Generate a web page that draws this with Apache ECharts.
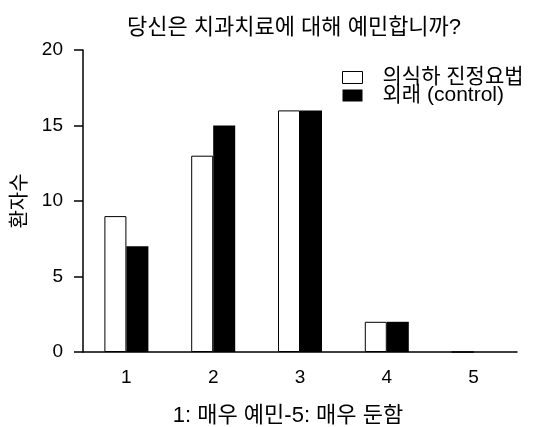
<!DOCTYPE html>
<html>
<head>
<meta charset="utf-8">
<script src="https://cdn.jsdelivr.net/npm/echarts@6/dist/echarts.min.js"></script>
<style>
  html, body { margin: 0; padding: 0; background: #fff; }
  #chart { width: 546px; height: 427px; }
</style>
</head>
<body>
<div id="chart"></div>
<script>
// 데이터
var categories = ['1', '2', '3', '4', '5'];
var sedationValues = [9, 13, 16, 2, 0];   // 의식하 진정요법
var controlValues = [7, 15, 16, 2, 0];    // 외래 (control)
var seriesNames = ['의식하 진정요법', '외래 (control)'];

var font = '"Liberation Sans", "Noto Sans CJK KR", sans-serif';

var myChart = echarts.init(document.getElementById('chart'));
var option = {
    backgroundColor: '#fff',
    animation: false,
    title: {
        text: '당신은 치과치료에 대해 예민합니까?',
        left: 289,
        textAlign: 'center',
        top: 12,
        textStyle: { fontFamily: font, fontSize: 22, fontWeight: 'normal', color: '#000' }
    },
    legend: {
        orient: 'vertical',
        left: 337,
        top: 62,
        itemWidth: 20,
        itemHeight: 12,
        itemGap: -3,
        data: [
            { name: seriesNames[0], icon: 'rect', itemStyle: { color: '#fff', borderColor: '#000', borderWidth: 1 } },
            { name: seriesNames[1], icon: 'rect' }
        ],
        textStyle: { fontFamily: font, fontSize: 21, lineHeight: 20, color: '#000', padding: [0, 0, 0, 15] }
    },
    // 축 이름이 grid를 밀어내지 않도록
    grid: { left: 83, right: 29, top: 50, bottom: 75, outerBoundsMode: 'none', containLabel: false },
    xAxis: {
        type: 'category',
        data: categories,
        name: '1: 매우 예민-5: 매우 둔함',
        nameLocation: 'middle',
        nameGap: 53,
        nameTextStyle: { fontFamily: font, fontSize: 22, color: '#000', padding: [0, 24, 0, 0] },
        axisLine: { lineStyle: { color: '#000', width: 1.5 } },
        axisTick: { inside: false, length: 8, lineStyle: { color: '#000', width: 1.5 } },
        axisLabel: { fontFamily: font, fontSize: 19, color: '#000', margin: 16 }
    },
    yAxis: {
        type: 'value',
        min: 0,
        max: 20,
        interval: 5,
        name: '환자수',
        nameLocation: 'middle',
        nameGap: 45,
        nameTextStyle: { fontFamily: font, fontSize: 20, color: '#000' },
        axisLine: { show: true, lineStyle: { color: '#000', width: 1.5 } },
        axisTick: { show: true, inside: false, length: 9, lineStyle: { color: '#000', width: 1.5 } },
        axisLabel: { fontFamily: font, fontSize: 19, color: '#000', margin: 20 },
        splitLine: { show: false }
    },
    series: [
        {
            name: seriesNames[0],
            type: 'bar',
            data: sedationValues,
            barWidth: 22,
            barGap: '0%',
            itemStyle: { color: '#fff', borderColor: '#000', borderWidth: 1 }
        },
        {
            name: seriesNames[1],
            type: 'bar',
            data: controlValues,
            barWidth: 22,
            barGap: '0%',
            itemStyle: { color: '#000' }
        }
    ]
};
myChart.setOption(option);
</script>
</body>
</html>
